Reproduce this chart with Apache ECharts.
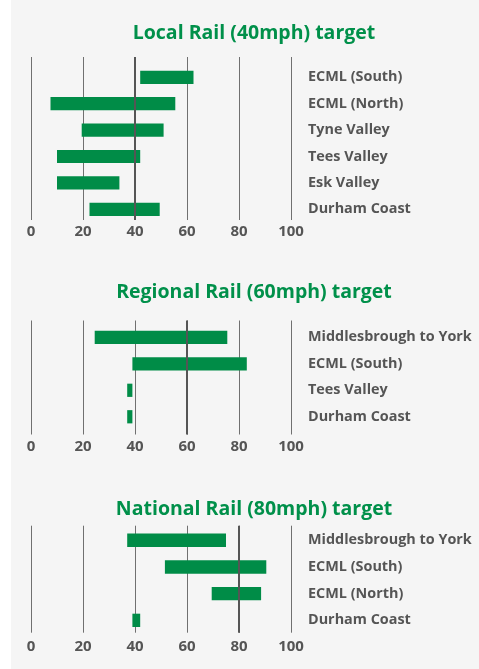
<!DOCTYPE html>
<html>
<head>
<meta charset="utf-8">
<script src="https://cdn.jsdelivr.net/npm/echarts@6/dist/echarts.min.js"></script>
<style>
  html, body { margin: 0; padding: 0; background: #ffffff; }
  #chart {
    width: 479px; height: 669px;
    background: linear-gradient(to right, #ffffff 0, #ffffff 11px, #f5f5f5 11px, #f5f5f5 100%);
  }
</style>
</head>
<body>
<div id="chart"></div>
<script>
// Line speed ranges (mph) per route, grouped by service tier
const panelTitles = ['Local Rail (40mph) target', 'Regional Rail (60mph) target', 'National Rail (80mph) target'];
const targets = [40, 60, 80];
const speedTicks = [0, 20, 40, 60, 80, 100];

const localRoutes = ['ECML (South)', 'ECML (North)', 'Tyne Valley', 'Tees Valley', 'Esk Valley', 'Durham Coast'];
const localLow    = [42, 7.5, 19.5, 10, 10, 22.5];
const localHigh   = [62.5, 55.5, 51, 42, 34, 49.5];

const regionalRoutes = ['Middlesbrough to York', 'ECML (South)', 'Tees Valley', 'Durham Coast'];
const regionalLow    = [24.5, 39, 37, 37];
const regionalHigh   = [75.5, 83, 39, 39];

const nationalRoutes = ['Middlesbrough to York', 'ECML (South)', 'ECML (North)', 'Durham Coast'];
const nationalLow    = [37, 51.5, 69.5, 39];
const nationalHigh   = [75, 90.5, 88.5, 42];

const panels = [
  { routes: localRoutes, low: localLow, high: localHigh },
  { routes: regionalRoutes, low: regionalLow, high: regionalHigh },
  { routes: nationalRoutes, low: nationalLow, high: nationalHigh }
];

// Layout of each panel: grid-line area, bar area, title centre, tick label gap
const layout = [
  { titleY: 33.5,  lineTop: 57,    lineH: 163,   barTop: 64.1,  barH: 158.4, tickGap: 4 },
  { titleY: 292.5, lineTop: 320.5, lineH: 114,   barTop: 324.1, barH: 105.9, tickGap: 5 },
  { titleY: 509.5, lineTop: 525.7, lineH: 107,   barTop: 526.9, barH: 106.8, tickGap: 6.5 }
];

const FONT = '"Open Sans", "Liberation Sans", sans-serif';
const GREEN = '#008c47';
const TEXT = '#555555';
const PLOT_LEFT = 31, PLOT_W = 260;

const grid = [], xAxis = [], yAxis = [], series = [], graphic = [];

panels.forEach((p, i) => {
  const L = layout[i];
  const gLines = grid.length;
  grid.push({ left: PLOT_LEFT, width: PLOT_W, top: L.lineTop, height: L.lineH });
  const gBars = grid.length;
  grid.push({ left: PLOT_LEFT, width: PLOT_W, top: L.barTop, height: L.barH });

  // speed axis with vertical grid lines and tick labels
  const xLines = xAxis.length;
  xAxis.push({
    type: 'value', gridIndex: gLines, min: speedTicks[0], max: speedTicks[speedTicks.length - 1], interval: 20,
    axisLine: { show: false }, axisTick: { show: false },
    splitLine: { show: true, lineStyle: { color: '#707070', width: 1 } },
    axisLabel: { margin: L.tickGap, color: TEXT, fontFamily: FONT, fontWeight: 'bold', fontSize: 15 }
  });
  const yLines = yAxis.length;
  yAxis.push({ type: 'value', gridIndex: gLines, min: 0, max: 1, show: false });

  // bar axis (hidden scale, same extent) and route labels on the right
  const xBars = xAxis.length;
  xAxis.push({
    type: 'value', gridIndex: gBars, min: speedTicks[0], max: speedTicks[speedTicks.length - 1], show: false
  });
  const yBars = yAxis.length;
  yAxis.push({
    type: 'category', gridIndex: gBars, data: p.routes, inverse: true, position: 'right',
    axisLine: { show: false }, axisTick: { show: false }, splitLine: { show: false },
    axisLabel: { margin: 17, align: 'left', color: TEXT, fontFamily: FONT, fontWeight: 'bold', fontSize: 14.4 }
  });

  // floating range bars: low..high for each route
  series.push({
    type: 'custom', xAxisIndex: xBars, yAxisIndex: yBars, z: 2,
    data: p.routes.map((r, k) => [k, p.low[k], p.high[k]]),
    encode: { y: 0, x: [1, 2] },
    renderItem: (params, api) => {
      const a = api.coord([api.value(1), api.value(0)]);
      const b = api.coord([api.value(2), api.value(0)]);
      const h = api.size([0, 1])[1] * 0.5;
      return {
        type: 'rect',
        shape: { x: a[0], y: a[1] - h / 2, width: b[0] - a[0], height: h },
        style: { fill: GREEN }
      };
    }
  });

  // target speed line drawn over the bars
  series.push({
    type: 'custom', xAxisIndex: xLines, yAxisIndex: yLines, z: 5,
    data: [[targets[i]]],
    encode: { x: 0 },
    renderItem: (params, api) => {
      const cs = params.coordSys;
      const x = Math.round(api.coord([api.value(0), 0])[0]);
      return {
        type: 'line',
        shape: { x1: x, y1: cs.y, x2: x, y2: cs.y + cs.height },
        style: { stroke: '#555555', lineWidth: 2 }
      };
    }
  });

  graphic.push({
    type: 'text', x: 254, y: L.titleY,
    style: {
      text: panelTitles[i], fill: '#00904a',
      font: 'bold 19.5px ' + FONT, textAlign: 'center', textVerticalAlign: 'middle'
    }
  });
});

const chart = echarts.init(document.getElementById('chart'), null, { renderer: 'canvas' });
chart.setOption({
  animation: false,
  backgroundColor: 'transparent',
  grid, xAxis, yAxis, series, graphic
});
</script>
</body>
</html>
